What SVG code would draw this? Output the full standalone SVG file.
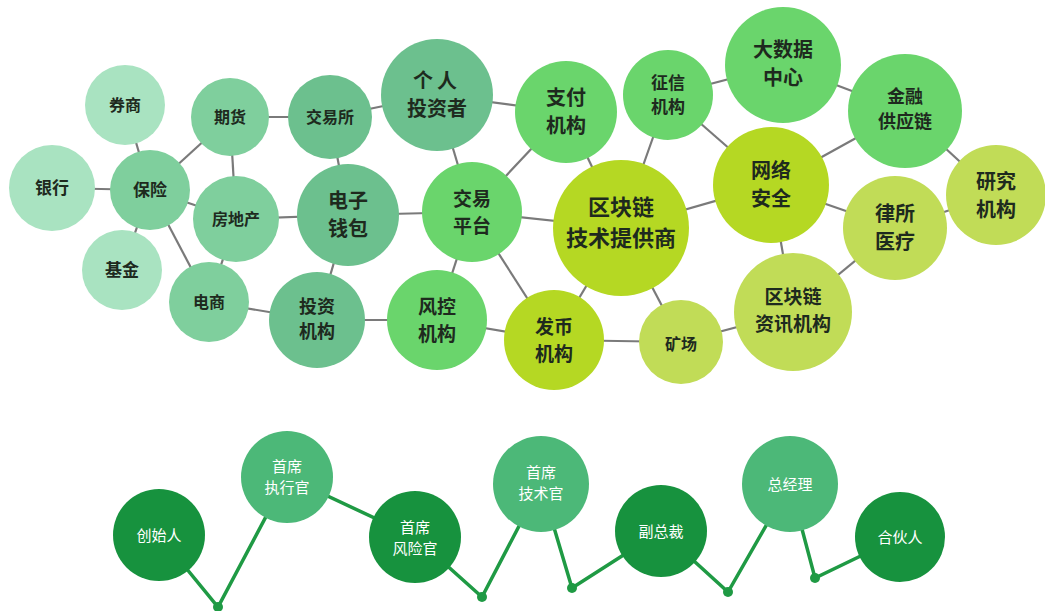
<svg xmlns="http://www.w3.org/2000/svg" width="1045" height="611" viewBox="0 0 1045 611">
<style>
.e{stroke:#7a7a7a;stroke-width:2.2;fill:none}
.t{font-family:"Noto Sans CJK SC","Noto Sans",sans-serif;fill:#1e2a1e;text-anchor:middle;font-weight:bold}
.w{font-family:"Noto Sans CJK SC","Noto Sans",sans-serif;fill:#ffffff;text-anchor:middle;font-size:15px}
.c1{fill:#a9e3c1}
.c2{fill:#7fcf9d}
.c3{fill:#6cc08e}
.c4{fill:#6ad56c}
.c5{fill:#b5d823}
.c6{fill:#c1dc57}
.d{fill:#17923e}
.l{fill:#4cb878}
.z{stroke:#1f9a44;stroke-width:3.5;fill:none}
</style>
<rect width="1045" height="611" fill="#ffffff"/>
<g id="connectors">
<line class="e" x1="125" y1="105" x2="150" y2="190"/>
<line class="e" x1="52" y1="188" x2="150" y2="190"/>
<line class="e" x1="122" y1="270" x2="150" y2="190"/>
<line class="e" x1="150" y1="190" x2="230" y2="117"/>
<line class="e" x1="150" y1="190" x2="236" y2="219"/>
<line class="e" x1="150" y1="190" x2="209" y2="302"/>
<line class="e" x1="230" y1="117" x2="330" y2="117"/>
<line class="e" x1="230" y1="117" x2="236" y2="219"/>
<line class="e" x1="236" y1="219" x2="348" y2="215"/>
<line class="e" x1="236" y1="219" x2="209" y2="302"/>
<line class="e" x1="209" y1="302" x2="317" y2="320"/>
<line class="e" x1="330" y1="117" x2="348" y2="215"/>
<line class="e" x1="330" y1="117" x2="437" y2="95"/>
<line class="e" x1="348" y1="215" x2="317" y2="320"/>
<line class="e" x1="348" y1="215" x2="472" y2="212"/>
<line class="e" x1="317" y1="320" x2="437" y2="320"/>
<line class="e" x1="437" y1="95" x2="472" y2="212"/>
<line class="e" x1="437" y1="95" x2="566" y2="112"/>
<line class="e" x1="472" y1="212" x2="566" y2="112"/>
<line class="e" x1="472" y1="212" x2="437" y2="320"/>
<line class="e" x1="472" y1="212" x2="621" y2="228"/>
<line class="e" x1="472" y1="212" x2="554" y2="340"/>
<line class="e" x1="437" y1="320" x2="554" y2="340"/>
<line class="e" x1="566" y1="112" x2="621" y2="228"/>
<line class="e" x1="668" y1="95" x2="621" y2="228"/>
<line class="e" x1="668" y1="95" x2="783" y2="65"/>
<line class="e" x1="668" y1="95" x2="771" y2="185"/>
<line class="e" x1="621" y1="228" x2="771" y2="185"/>
<line class="e" x1="621" y1="228" x2="554" y2="340"/>
<line class="e" x1="621" y1="228" x2="681" y2="342"/>
<line class="e" x1="554" y1="340" x2="681" y2="342"/>
<line class="e" x1="783" y1="65" x2="905" y2="111"/>
<line class="e" x1="771" y1="185" x2="905" y2="111"/>
<line class="e" x1="771" y1="185" x2="895" y2="228"/>
<line class="e" x1="771" y1="185" x2="793" y2="312"/>
<line class="e" x1="905" y1="111" x2="996" y2="195"/>
<line class="e" x1="895" y1="228" x2="996" y2="195"/>
<line class="e" x1="895" y1="228" x2="793" y2="312"/>
<line class="e" x1="681" y1="342" x2="793" y2="312"/>
<polyline class="z" points="159,535 218,607 287,477 415,537 482,597 541,484 572,588 661,531 728,592 790,484 815,578 900,537"/>
<circle cx="218" cy="607" r="5" fill="#1f9a44"/>
<circle cx="482" cy="597" r="5" fill="#1f9a44"/>
<circle cx="572" cy="588" r="5" fill="#1f9a44"/>
<circle cx="728" cy="592" r="5" fill="#1f9a44"/>
<circle cx="815" cy="578" r="5" fill="#1f9a44"/>
</g>
<g id="n-quanshang"><circle class="c1" cx="125" cy="105" r="40"/><text class="t" x="125" y="111" font-size="16">券商</text></g>
<g id="n-yinhang"><circle class="c1" cx="52" cy="188" r="43"/><text class="t" x="52" y="194" font-size="17">银行</text></g>
<g id="n-jijin"><circle class="c1" cx="122" cy="270" r="40"/><text class="t" x="122" y="276" font-size="17">基金</text></g>
<g id="n-baoxian"><circle class="c2" cx="150" cy="190" r="40"/><text class="t" x="150" y="196" font-size="17">保险</text></g>
<g id="n-qihuo"><circle class="c2" cx="230" cy="117" r="39"/><text class="t" x="230" y="123" font-size="16">期货</text></g>
<g id="n-fangdichan"><circle class="c2" cx="236" cy="219" r="43"/><text class="t" x="236" y="225" font-size="16">房地产</text></g>
<g id="n-dianshang"><circle class="c2" cx="209" cy="302" r="40"/><text class="t" x="209" y="308" font-size="16">电商</text></g>
<g id="n-jiaoyisuo"><circle class="c3" cx="330" cy="117" r="42"/><text class="t" x="330" y="123" font-size="16">交易所</text></g>
<g id="n-dianziqianbao"><circle class="c3" cx="348" cy="215" r="51"/><text class="t" font-size="20"><tspan x="348" y="208">电子</tspan><tspan x="348" y="236">钱包</tspan></text></g>
<g id="n-touzijigou"><circle class="c3" cx="317" cy="320" r="48"/><text class="t" font-size="18"><tspan x="317" y="313">投资</tspan><tspan x="317" y="338">机构</tspan></text></g>
<g id="n-gerentouzizhe"><circle class="c3" cx="437" cy="95" r="56"/><text class="t" font-size="20"><tspan x="437" y="88" letter-spacing="4">个人</tspan><tspan x="437" y="116">投资者</tspan></text></g>
<g id="n-jiaoyipingtai"><circle class="c4" cx="472" cy="212" r="50"/><text class="t" font-size="19"><tspan x="472" y="206">交易</tspan><tspan x="472" y="233">平台</tspan></text></g>
<g id="n-fengkongjigou"><circle class="c4" cx="437" cy="320" r="50"/><text class="t" font-size="19"><tspan x="437" y="314">风控</tspan><tspan x="437" y="341">机构</tspan></text></g>
<g id="n-zhifujigou"><circle class="c4" cx="566" cy="112" r="51"/><text class="t" font-size="20"><tspan x="566" y="105">支付</tspan><tspan x="566" y="133">机构</tspan></text></g>
<g id="n-zhengxinjigou"><circle class="c4" cx="668" cy="95" r="45"/><text class="t" font-size="17"><tspan x="668" y="89">征信</tspan><tspan x="668" y="113">机构</tspan></text></g>
<g id="n-dashujuzhongxin"><circle class="c4" cx="783" cy="65" r="58"/><text class="t" font-size="20"><tspan x="783" y="57">大数据</tspan><tspan x="783" y="85">中心</tspan></text></g>
<g id="n-jinrongongyinglian"><circle class="c4" cx="905" cy="111" r="57"/><text class="t" font-size="18"><tspan x="905" y="103">金融</tspan><tspan x="905" y="128">供应链</tspan></text></g>
<g id="n-qukuailianjishu"><circle class="c5" cx="621" cy="228" r="68"/><text class="t" font-size="22"><tspan x="621" y="215">区块链</tspan><tspan x="621" y="246">技术提供商</tspan></text></g>
<g id="n-wangluoanquan"><circle class="c5" cx="771" cy="185" r="58"/><text class="t" font-size="20"><tspan x="771" y="178">网络</tspan><tspan x="771" y="206">安全</tspan></text></g>
<g id="n-fabijigou"><circle class="c5" cx="554" cy="340" r="50"/><text class="t" font-size="19"><tspan x="554" y="334">发币</tspan><tspan x="554" y="361">机构</tspan></text></g>
<g id="n-kuangchang"><circle class="c6" cx="681" cy="342" r="42"/><text class="t" x="681" y="350" font-size="16">矿场</text></g>
<g id="n-lvsuoyiliao"><circle class="c6" cx="895" cy="228" r="52"/><text class="t" font-size="20"><tspan x="895" y="221">律所</tspan><tspan x="895" y="249">医疗</tspan></text></g>
<g id="n-yanjiujigou"><circle class="c6" cx="996" cy="195" r="50"/><text class="t" font-size="20"><tspan x="996" y="189">研究</tspan><tspan x="996" y="217">机构</tspan></text></g>
<g id="n-qukuailianzixun"><circle class="c6" cx="793" cy="312" r="59"/><text class="t" font-size="19"><tspan x="793" y="304">区块链</tspan><tspan x="793" y="331">资讯机构</tspan></text></g>
<g id="n-chuangshiren"><circle class="d" cx="159" cy="535" r="46"/><text class="w" x="159" y="541">创始人</text></g>
<g id="n-shouxizhixingguan"><circle class="l" cx="287" cy="477" r="46"/><text class="w"><tspan x="287" y="472">首席</tspan><tspan x="287" y="493">执行官</tspan></text></g>
<g id="n-shouxifengxianguan"><circle class="d" cx="415" cy="537" r="46"/><text class="w"><tspan x="415" y="533">首席</tspan><tspan x="415" y="554">风险官</tspan></text></g>
<g id="n-shouxijishuguan"><circle class="l" cx="541" cy="484" r="48"/><text class="w"><tspan x="541" y="478">首席</tspan><tspan x="541" y="499">技术官</tspan></text></g>
<g id="n-fuzongcai"><circle class="d" cx="661" cy="531" r="46"/><text class="w" x="661" y="537">副总裁</text></g>
<g id="n-zongjingli"><circle class="l" cx="790" cy="484" r="48"/><text class="w" x="790" y="490">总经理</text></g>
<g id="n-hehuoren"><circle class="d" cx="900" cy="537" r="45"/><text class="w" x="900" y="543">合伙人</text></g>
</svg>
